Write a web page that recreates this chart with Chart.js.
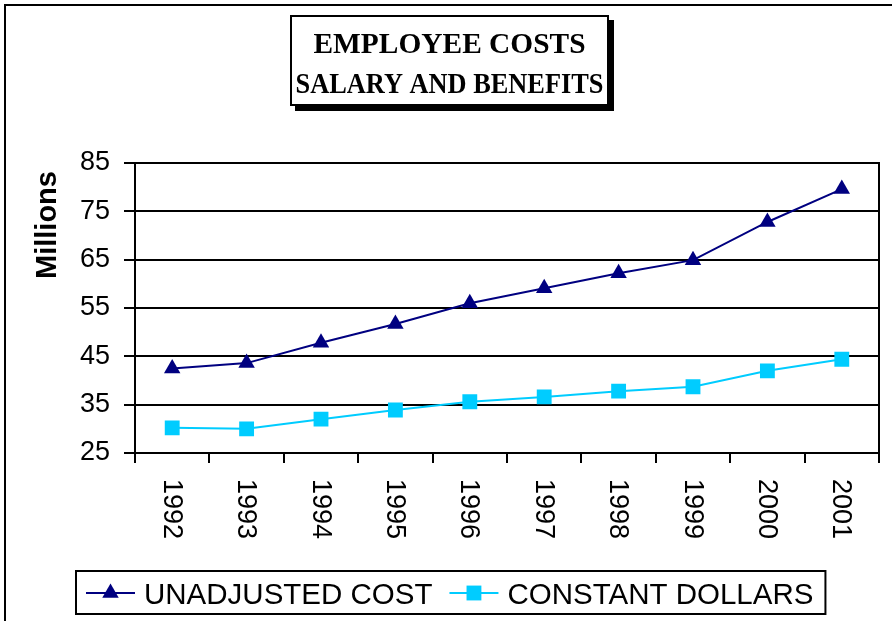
<!DOCTYPE html>
<html>
<head>
<meta charset="utf-8">
<script src="https://cdn.jsdelivr.net/npm/chart.js@4/dist/chart.umd.min.js"></script>
<style>
  html, body { margin: 0; padding: 0; background: #fff; }
  canvas { display: block; }
</style>
</head>
<body>
<canvas id="costChart" width="892" height="621"></canvas>
<script>
const years = ['1992', '1993', '1994', '1995', '1996', '1997', '1998', '1999', '2000', '2001'];
const unadjusted = [42.5, 43.6, 47.8, 51.7, 56.0, 59.1, 62.2, 64.9, 72.8, 79.6];
const constantDollars = [30.2, 30.0, 32.0, 33.9, 35.6, 36.6, 37.8, 38.7, 42.0, 44.4];
const seriesNames = ['UNADJUSTED COST', 'CONSTANT DOLLARS'];
const titleLines = ['EMPLOYEE COSTS', 'SALARY AND BENEFITS'];
const yMin = 25, yMax = 85, yStep = 10;

const sans = '"Liberation Sans", Arial, sans-serif';
const serif = '"Liberation Serif", "Times New Roman", serif';

// frame + title box (behind everything)
const backdrop = {
  id: 'backdrop',
  beforeDraw(chart) {
    const ctx = chart.ctx;
    ctx.save();
    ctx.fillStyle = '#fff';
    ctx.fillRect(0, 0, chart.width, chart.height);
    ctx.strokeStyle = '#000';
    ctx.lineWidth = 2;
    ctx.beginPath();
    ctx.moveTo(5, chart.height);
    ctx.lineTo(5, 5);
    ctx.lineTo(chart.width, 5);
    ctx.stroke();

    // title box with drop shadow
    ctx.fillStyle = '#000';
    ctx.fillRect(295, 20, 319, 91);
    ctx.fillStyle = '#fff';
    ctx.fillRect(290, 15, 319, 91);
    ctx.strokeRect(291, 16, 317, 89);

    ctx.fillStyle = '#000';
    ctx.textAlign = 'center';
    ctx.textBaseline = 'alphabetic';
    ctx.font = 'bold 30px ' + serif;
    const widths = [272, 308];
    const baselines = [53, 93];
    titleLines.forEach((t, i) => {
      const w = ctx.measureText(t).width;
      ctx.save();
      ctx.translate(449.5, baselines[i]);
      ctx.scale(widths[i] / w, 1);
      ctx.fillText(t, 0, 0);
      ctx.restore();
    });
    ctx.restore();
  }
};

function drawMarker(ctx, style, x, y, r, color) {
  ctx.fillStyle = color;
  ctx.beginPath();
  if (style === 'triangle') {
    const h = r * Math.sqrt(3) / 2;
    ctx.moveTo(x, y - r);
    ctx.lineTo(x + h, y + r / 2);
    ctx.lineTo(x - h, y + r / 2);
    ctx.closePath();
  } else {
    const s = Math.SQRT1_2 * r;
    ctx.rect(x - s, y - s, 2 * s, 2 * s);
  }
  ctx.fill();
}

// rotated year labels + legend box
const extras = {
  id: 'extras',
  afterDraw(chart) {
    const ctx = chart.ctx;
    const xs = chart.scales.x;
    ctx.save();
    ctx.fillStyle = '#000';
    ctx.font = '27px ' + sans;
    ctx.textAlign = 'left';
    ctx.textBaseline = 'middle';
    chart.data.labels.forEach((lab, i) => {
      ctx.save();
      ctx.translate(xs.getPixelForTick(i), xs.top + 26);
      ctx.rotate(Math.PI / 2);
      ctx.fillText(lab, 0, 1);
      ctx.restore();
    });

    // legend
    const boxL = 76, boxT = 571, boxB = 614;
    const midY = 593;
    ctx.font = '29.5px ' + sans;
    let x = boxL + 10;
    chart.data.datasets.forEach((ds, i) => {
      ctx.strokeStyle = ds.borderColor;
      ctx.lineWidth = 2;
      ctx.beginPath();
      ctx.moveTo(x, midY);
      ctx.lineTo(x + 49, midY);
      ctx.stroke();
      drawMarker(ctx, ds.pointStyle, x + 24.5, midY, ds.pointRadius, ds.borderColor);
      x += 58;
      ctx.fillStyle = '#000';
      ctx.textBaseline = 'alphabetic';
      ctx.fillText(ds.label, x, midY + 11);
      x += ctx.measureText(ds.label).width + 17;
    });
    const boxR = x - 17 + 12;
    ctx.strokeStyle = '#000';
    ctx.lineWidth = 2;
    ctx.strokeRect(boxL, boxT, boxR - boxL, boxB - boxT);
    ctx.restore();
  }
};

new Chart(document.getElementById('costChart'), {
  type: 'line',
  data: {
    labels: years,
    datasets: [
      {
        label: seriesNames[0],
        data: unadjusted,
        borderColor: '#000080',
        backgroundColor: '#000080',
        borderWidth: 2,
        pointStyle: 'triangle',
        pointRadius: 9.5,
        pointBorderWidth: 0,
        tension: 0
      },
      {
        label: seriesNames[1],
        data: constantDollars,
        borderColor: '#00CCFF',
        backgroundColor: '#00CCFF',
        borderWidth: 2,
        pointStyle: 'rect',
        pointRadius: 10.5,
        pointBorderWidth: 0,
        tension: 0
      }
    ]
  },
  options: {
    responsive: false,
    animation: false,
    layout: { padding: { top: 163, right: 13, bottom: 58, left: 0 } },
    plugins: {
      legend: { display: false },
      title: { display: false },
      tooltip: { enabled: false }
    },
    scales: {
      x: {
        offset: true,
        grid: { offset: true, drawOnChartArea: false, drawTicks: true, tickLength: 10, color: '#000', lineWidth: 2 },
        border: { display: true, color: '#000', width: 2 },
        ticks: { display: false },
        afterFit(scale) { scale.height = 110; }
      },
      y: {
        min: yMin,
        max: yMax,
        ticks: { stepSize: yStep, color: '#000', padding: 14, font: { family: sans, size: 27 } },
        grid: { color: '#000', lineWidth: 2, tickLength: 11 },
        border: { display: true, color: '#000', width: 2 },
        title: {
          display: true,
          text: 'Millions ',
          align: 'end',
          color: '#000',
          padding: { top: 31, bottom: 0 },
          font: { family: sans, size: 29, weight: 'bold' }
        },
        afterFit(scale) { scale.width = 135; }
      },
      y2: {
        position: 'right',
        min: yMin,
        max: yMax,
        grid: { display: false, drawTicks: false },
        ticks: { display: false },
        border: { display: true, color: '#000', width: 2 },
        afterFit(scale) { scale.width = 0; }
      }
    }
  },
  plugins: [backdrop, extras]
});
</script>
</body>
</html>
